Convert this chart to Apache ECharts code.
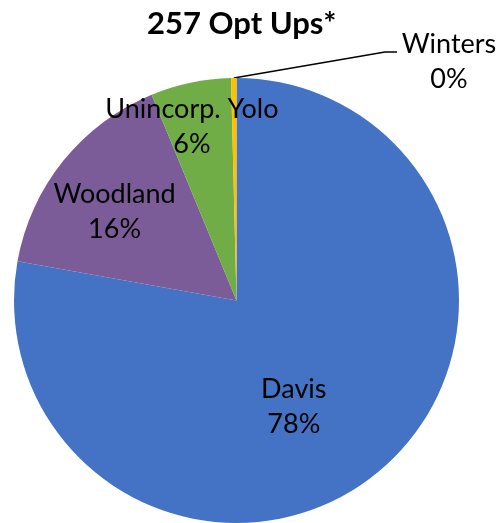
<!DOCTYPE html>
<html>
<head>
<meta charset="utf-8">
<script src="https://cdn.jsdelivr.net/npm/echarts@6/dist/echarts.min.js"></script>
<style>html,body{margin:0;padding:0;background:#fff}#c{width:497px;height:523px}</style>
</head>
<body>
<div id="c"></div>
<script>
var titleText = '257 Opt Ups*';
var categories = ['Davis', 'Woodland', 'Unincorp. Yolo', 'Winters'];
var counts = [200, 41, 15, 1];
var colors = ['#4472C4', '#7B5C98', '#70AD47', '#FFC000'];
var labelOffsets = [[-16, 19], [-33, -17], [-21, -62], [0, 0]];

var chart = echarts.init(document.getElementById('c'), null, {renderer: 'canvas'});
var data = categories.map(function (name, i) {
  var item = {
    name: name,
    value: counts[i],
    itemStyle: {color: colors[i]},
    label: {offset: labelOffsets[i]}
  };
  if (name === 'Winters') {
    item.label = {position: 'outside'};
    item.labelLine = {show: true, lineStyle: {color: '#000', width: 1.3}};
  }
  return item;
});

chart.setOption({
  animation: false,
  title: {
    text: titleText,
    left: 142,
    top: 3,
    textStyle: {fontFamily: 'Lato', fontWeight: 'bold', fontSize: 31, color: '#000'}
  },
  series: [{
    type: 'pie',
    center: [236.5, 300.5],
    radius: 222.5,
    startAngle: 90,
    clockwise: true,
    percentPrecision: 0,
    itemStyle: {borderWidth: 0},
    label: {
      show: true,
      position: 'inside',
      formatter: '{b}\n{d}%',
      fontFamily: 'Lato',
      fontSize: 27,
      lineHeight: 35,
      color: '#000',
      align: 'center'
    },
    labelLine: {show: false},
    labelLayout: function (params) {
      if (params.dataIndex === 3) {
        var sx = params.rect.x + params.rect.width / 2;
        var sy = params.rect.y;
        return {
          x: 449,
          y: 62,
          align: 'center',
          verticalAlign: 'middle',
          labelLinePoints: [[sx, sy], [385, 52], [397, 52]]
        };
      }
      return {};
    },
    data: data
  }]
});
</script>
</body>
</html>
